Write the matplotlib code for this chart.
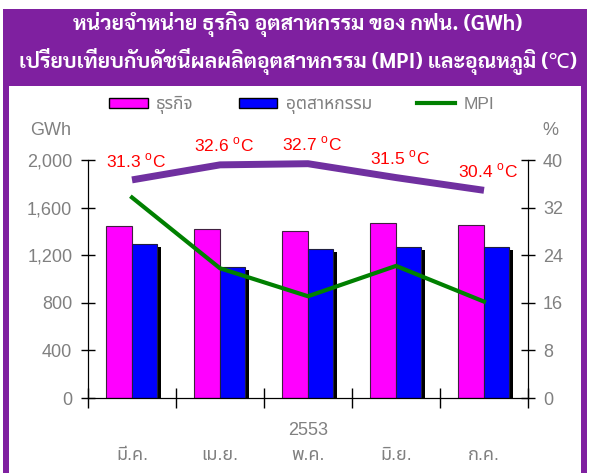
import matplotlib
matplotlib.use('Agg')
import matplotlib.pyplot as plt
import matplotlib.patheffects as pe
from matplotlib.lines import Line2D
from matplotlib.patches import Rectangle
import numpy as np

months = ['มี.ค.', 'เม.ย.', 'พ.ค.', 'มิ.ย.', 'ก.ค.']
year = '2553'
business = [1448, 1418, 1403, 1468, 1457]      # ธุรกิจ (GWh)
industry = [1291, 1098, 1255, 1272, 1272]      # อุตสาหกรรม (GWh)
mpi = [33.7, 21.8, 17.1, 22.2, 16.2]           # MPI (%)
temps = [31.3, 32.6, 32.7, 31.5, 30.4]         # อุณหภูมิ (C)
legend_labels = ['ธุรกิจ', 'อุตสาหกรรม', 'MPI']
title = ('หน่วยจำหน่าย ธุรกิจ อุตสาหกรรม ของ กฟน. (GWh)\n'
         'เปรียบเทียบกับดัชนีผลผลิตอุตสาหกรรม (MPI) และอุณหภูมิ (℃)')

PURPLE = '#7f20a0'
GRAY = '#808080'
MAGENTA, BLUE, GREEN = '#ff00ff', '#0000ff', '#008000'

plt.rcParams['font.family'] = ['Liberation Sans', 'Noto Sans Thai', 'DejaVu Sans']
plt.rcParams['mathtext.fontset'] = 'custom'
plt.rcParams['mathtext.rm'] = 'Liberation Sans'

fig = plt.figure(figsize=(5.9, 4.73), dpi=100)
W, H = 590., 473.
fig.patches.append(Rectangle((3 / W, 0), 584 / W, 464 / H, transform=fig.transFigure,
                             facecolor=PURPLE, edgecolor='none', zorder=-2))
fig.patches.append(Rectangle((9 / W, 0), 572 / W, 387 / H, transform=fig.transFigure,
                             facecolor='white', edgecolor='none', zorder=-1))
fig.text(0.505, 1 - 43 / H, title, ha='center', va='center', color='white',
         fontsize=15.2, fontweight='bold', linespacing=1.55,
         family=['Sarabun', 'Noto Sans', 'DejaVu Sans'])

ax = fig.add_axes([88 / W, 1 - 398 / H, 440 / W, 238 / H])
ax.patch.set_visible(False)
x = np.arange(len(months))
w = 0.29
shadow = [pe.SimplePatchShadow(offset=(3, -2.2), shadow_rgbFace='black', alpha=1),
          pe.Normal()]
ax.bar(x - 0.15, business, w, color=MAGENTA, edgecolor='#402040', linewidth=0.8)
b2 = ax.bar(x + 0.14, industry, w, color=BLUE, edgecolor='#202040', linewidth=0.8)
for p in b2:
    p.set_path_effects(shadow)

ax.set_xlim(-0.5, 4.5)
ax.set_ylim(0, 2000)
ax.set_yticks(np.arange(0, 2001, 400))
ax.set_yticklabels(['{:,}'.format(v) for v in range(0, 2001, 400)])
ax.set_xticks(np.arange(-0.5, 5, 1))
ax.set_xticklabels([])
ax.set_xticks(x, minor=True)
ax.set_xticklabels(months, minor=True)
ax.tick_params(axis='x', which='major', direction='inout', length=14, width=1)
ax.tick_params(axis='x', which='minor', length=0, pad=35.5, labelsize=13,
               labelcolor=GRAY)
ax.tick_params(axis='y', direction='inout', length=9.5, width=1, pad=6.5,
               labelsize=13, labelcolor=GRAY)
ax.spines['top'].set_visible(False)
ax.text(0.5, -0.135, year, transform=ax.transAxes, ha='center', va='center',
        color=GRAY, fontsize=13)
ax.text(-0.084, 1.125, 'GWh', transform=ax.transAxes, ha='center', va='center',
        color=GRAY, fontsize=13)

ax2 = ax.twinx()
ax2.plot(x, mpi, color=GREEN, linewidth=3)
ax2.set_ylim(0, 40)
ax2.set_yticks(np.arange(0, 41, 8))
ax2.tick_params(axis='y', direction='inout', length=9.5, width=1, pad=6,
                labelsize=13, labelcolor=GRAY)
ax2.spines['top'].set_visible(False)
ax2.text(1.05, 1.125, '%', transform=ax.transAxes, ha='center', va='center',
         color=GRAY, fontsize=13)

ax3 = ax.twinx()
ax3.axis('off')
ax3.set_ylim(12.45, 33.02)
ax3.plot(x, temps, color='#7030a0', linewidth=5, solid_capstyle='butt')
for xi, t in zip(x, temps):
    ax3.annotate('{:.1f} $^{{\\mathrm{{o}}}}$C'.format(t), (xi, t),
                 xytext=(3, 14), textcoords='offset points', ha='center',
                 va='center', color='red', fontsize=12.5)

handles = [Rectangle((0, 0), 1, 1, facecolor=MAGENTA, edgecolor='black', linewidth=1),
           Rectangle((0, 0), 1, 1, facecolor=BLUE, edgecolor='black', linewidth=1),
           Line2D([], [], color=GREEN, linewidth=3)]
fig.legend(handles, legend_labels, loc='center',
           bbox_to_anchor=(0.512, 1 - 105 / H), ncol=3, frameon=False,
           fontsize=12.5, labelcolor=GRAY, handlelength=2.2, handleheight=0.55,
           handletextpad=0.5, columnspacing=2.6)

fig.savefig('out.png', dpi=100)
